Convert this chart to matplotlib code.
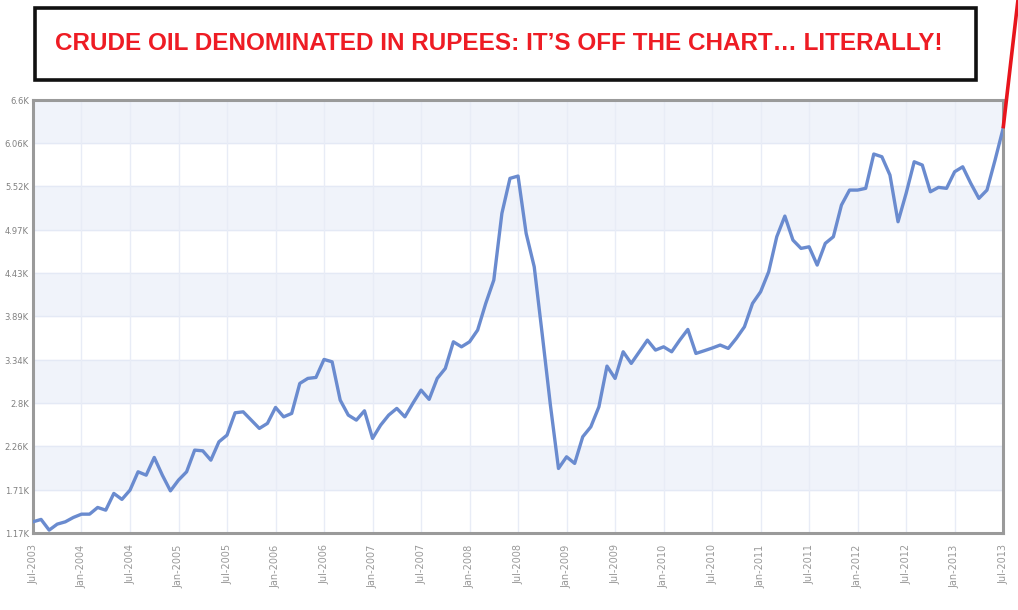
import matplotlib.pyplot as plt
from matplotlib.patches import Rectangle

# monthly price, Jul-2003 .. Jul-2013 (thousand rupees)
prix = [1.312, 1.342, 1.208, 1.283, 1.312, 1.367, 1.408, 1.408, 1.492, 1.458,
        1.668, 1.593, 1.709, 1.939, 1.897, 2.119, 1.897, 1.700, 1.835, 1.939,
        2.211, 2.202, 2.085, 2.315, 2.399, 2.679, 2.691, 2.587, 2.483, 2.546,
        2.746, 2.628, 2.671, 3.047, 3.110, 3.122, 3.348, 3.318, 2.838, 2.650,
        2.587, 2.704, 2.358, 2.524, 2.650, 2.734, 2.628, 2.800, 2.963, 2.847,
        3.110, 3.235, 3.569, 3.506, 3.569, 3.716, 4.050, 4.343, 5.179, 5.618,
        5.647, 4.928, 4.509, 3.653, 2.775, 1.981, 2.127, 2.044, 2.378, 2.503,
        2.754, 3.264, 3.110, 3.444, 3.298, 3.444, 3.590, 3.465, 3.506, 3.444,
        3.590, 3.724, 3.423, 3.456, 3.490, 3.528, 3.486, 3.612, 3.757, 4.050,
        4.196, 4.447, 4.886, 5.145, 4.844, 4.740, 4.760, 4.531, 4.803, 4.886,
        5.283, 5.471, 5.471, 5.493, 5.923, 5.889, 5.659, 5.074, 5.430, 5.826,
        5.785, 5.450, 5.505, 5.493, 5.701, 5.763, 5.555, 5.367, 5.471, 5.847,
        6.245]

# the red "off the chart" stroke
fleche_x = [120, 122]
fleche_y = [6.245, 8.0]

niveaux = [1.17, 1.71, 2.26, 2.8, 3.34, 3.89, 4.43, 4.97, 5.52, 6.06, 6.6]
etiquettes_y = ['1.17K', '1.71K', '2.26K', '2.8K', '3.34K', '3.89K',
                '4.43K', '4.97K', '5.52K', '6.06K', '6.6K']

etiquettes_x = []
for annee in range(2003, 2014):
    if annee > 2003:
        etiquettes_x.append('Jan-%d' % annee)
    etiquettes_x.append('Jul-%d' % annee)

mois = list(range(len(prix)))
ticks_x = list(range(0, len(prix), 6))

fig = plt.figure(figsize=(10.18, 6.10), dpi=100)
ax = fig.add_axes([0.0324, 0.126, 0.953, 0.710])

# alternating bands
for k in range(len(niveaux) - 1):
    if k % 2 == 1:
        ax.axhspan(niveaux[k], niveaux[k + 1], color='#f0f3fa', zorder=0)
for n in niveaux:
    ax.axhline(n, color='#e4e9f5', lw=1, zorder=1)
for t in ticks_x:
    ax.axvline(t, color='#e8ecf6', lw=1, zorder=1)

ax.plot(mois, prix, color='#6a8bcf', lw=2.4, zorder=3, solid_joinstyle='round')
ax.plot(fleche_x, fleche_y, color='#e8141c', lw=2.6, zorder=4, clip_on=False,
        solid_capstyle='butt')

ax.set_xlim(0, 120)
ax.set_ylim(niveaux[0], niveaux[-1])
ax.set_yticks(niveaux)
ax.set_yticklabels(etiquettes_y, fontsize=6, color='#808080')
ax.set_xticks(ticks_x)
ax.set_xticklabels(etiquettes_x, rotation=90, fontsize=7, color='#999999')
ax.tick_params(length=0, pad=3)
ax.tick_params(axis='x', pad=8)

for s in ax.spines.values():
    s.set_color('#9a9a9a')
    s.set_linewidth(2.2)

# title box
boite = Rectangle((0.0344, 0.869), 0.924, 0.118, transform=fig.transFigure,
                  fill=False, edgecolor='#111111', lw=2.6)
fig.patches.append(boite)
fig.text(0.490, 0.928, 'CRUDE OIL DENOMINATED IN RUPEES: IT\u2019S OFF THE CHART\u2026 LITERALLY!',
         ha='center', va='center', color='#ee1c24', fontsize=17.5, fontweight='bold',
         family=['Liberation Sans', 'DejaVu Sans'])

fig.savefig('out.png', dpi=100)
